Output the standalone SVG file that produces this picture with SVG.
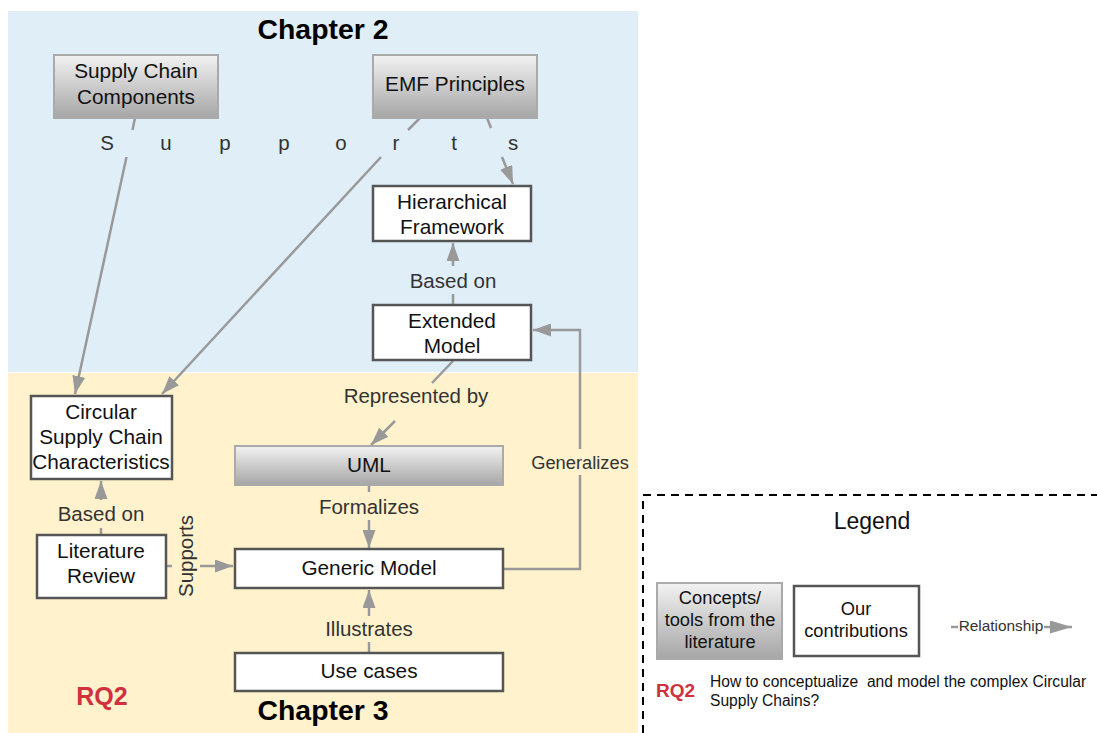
<svg xmlns="http://www.w3.org/2000/svg" width="1097" height="733" viewBox="0 0 1097 733">
<defs>
<linearGradient id="gray" x1="0" y1="0" x2="0" y2="1">
<stop offset="0" stop-color="#f2f2f2"/>
<stop offset="1" stop-color="#a6a6a6"/>
</linearGradient>
<marker id="arr" viewBox="0 0 18 13" refX="18" refY="6.5" markerWidth="18" markerHeight="13" markerUnits="userSpaceOnUse" orient="auto">
<path d="M0,0 L18,6.5 L0,13 z" fill="#999"/>
</marker>
<marker id="arrL" viewBox="0 0 22 13" refX="22" refY="6.5" markerWidth="22" markerHeight="13" markerUnits="userSpaceOnUse" orient="auto">
<path d="M0,0 L22,6.5 L0,13 z" fill="#999"/>
</marker>
<style>
.lit{fill:url(#gray);stroke:#aaaaaa;stroke-width:2}
.our{fill:#ffffff;stroke:#555555;stroke-width:2.5}
.nt{font-family:"Liberation Sans",Arial,sans-serif;font-size:20.8px;fill:#111;text-anchor:middle}
.lb{font-family:"Liberation Sans",Arial,sans-serif;font-size:20.5px;fill:#333;text-anchor:middle}
.cn{fill:none;stroke:#999;stroke-width:2.5}
.ch{font-family:"Liberation Sans",Arial,sans-serif;font-size:28.4px;font-weight:bold;fill:#000;text-anchor:middle}
.rq{font-family:"Liberation Sans",Arial,sans-serif;font-weight:bold;fill:#d0313d}
.lt{font-family:"Liberation Sans",Arial,sans-serif;font-size:18.3px;fill:#111;text-anchor:middle}
.qt{font-family:"Liberation Sans",Arial,sans-serif;font-size:15.6px;fill:#111;white-space:pre}
</style>
</defs>
<rect width="1097" height="733" fill="#ffffff"/>
<g id="backgrounds">
<rect x="8" y="11" width="630" height="361" fill="#e0eef8"/>
<rect x="8" y="373" width="630" height="360" fill="#fff2cc"/>
<text class="ch" x="323" y="39">Chapter 2</text>
<text class="ch" x="323" y="720">Chapter 3</text>
<text class="rq" x="102" y="705" style="font-size:25px" text-anchor="middle">RQ2</text>
</g>
<g id="connectors">
<line class="cn" x1="135" y1="118" x2="132.5" y2="130"/>
<line class="cn" x1="126.5" y1="157" x2="75" y2="394" marker-end="url(#arr)"/>
<line class="cn" x1="420" y1="118" x2="408" y2="130"/>
<line class="cn" x1="381" y1="157" x2="162" y2="394" marker-end="url(#arr)"/>
<line class="cn" x1="487" y1="118" x2="491" y2="128"/>
<line class="cn" x1="502" y1="157" x2="513" y2="184" marker-end="url(#arr)"/>
<line class="cn" x1="453" y1="304" x2="453" y2="294"/>
<line class="cn" x1="453" y1="266" x2="453" y2="243" marker-end="url(#arr)"/>
<line class="cn" x1="453" y1="361" x2="432" y2="383"/>
<line class="cn" x1="395" y1="421" x2="371" y2="445" marker-end="url(#arr)"/>
<path class="cn" d="M503,569 H580 V475"/>
<path class="cn" d="M580,449 V330 H533" marker-end="url(#arr)"/>
<line class="cn" x1="369" y1="486" x2="369" y2="492"/>
<line class="cn" x1="369" y1="520" x2="369" y2="548" marker-end="url(#arr)"/>
<line class="cn" x1="369" y1="652" x2="369" y2="642"/>
<line class="cn" x1="369" y1="616" x2="369" y2="590" marker-end="url(#arr)"/>
<line class="cn" x1="101" y1="535" x2="101" y2="528"/>
<line class="cn" x1="101" y1="500" x2="101" y2="481" marker-end="url(#arr)"/>
<line class="cn" x1="166" y1="566" x2="172" y2="566"/>
<line class="cn" x1="200" y1="566" x2="233" y2="566" marker-end="url(#arr)"/>
<text class="lb" x="0" y="0"><tspan x="107" y="150">S</tspan><tspan x="166" y="150">u</tspan><tspan x="225" y="150">p</tspan><tspan x="284" y="150">p</tspan><tspan x="341" y="150">o</tspan><tspan x="396" y="150">r</tspan><tspan x="454" y="150">t</tspan><tspan x="513" y="150">s</tspan></text>
<text class="lb" x="453" y="288">Based on</text>
<text class="lb" x="416" y="403">Represented by</text>
<text class="lb" x="580" y="469" style="font-size:18.3px">Generalizes</text>
<text class="lb" x="369" y="514">Formalizes</text>
<text class="lb" x="369" y="636">Illustrates</text>
<text class="lb" x="101" y="521">Based on</text>
<text class="lb" transform="translate(193,556) rotate(-90)">Supports</text>
</g>
<g id="n-scc">
<rect class="lit" x="54" y="55" width="164" height="63"/>
<text class="nt" x="136" y="78">Supply Chain</text>
<text class="nt" x="136" y="104">Components</text>
</g>
<g id="n-emf">
<rect class="lit" x="373" y="55" width="164" height="63"/>
<text class="nt" x="455" y="91">EMF Principles</text>
</g>
<g id="n-hf">
<rect class="our" x="373" y="186" width="158" height="55"/>
<text class="nt" x="452" y="209">Hierarchical</text>
<text class="nt" x="452" y="234">Framework</text>
</g>
<g id="n-em">
<rect class="our" x="373" y="305" width="158" height="55"/>
<text class="nt" x="452" y="328">Extended</text>
<text class="nt" x="452" y="353">Model</text>
</g>
<g id="n-cscc">
<rect class="our" x="31" y="396" width="141" height="83"/>
<text class="nt" x="101" y="419">Circular</text>
<text class="nt" x="101" y="444">Supply Chain</text>
<text class="nt" x="101" y="469">Characteristics</text>
</g>
<g id="n-uml">
<rect class="lit" x="235" y="446" width="268" height="39"/>
<text class="nt" x="369" y="472">UML</text>
</g>
<g id="n-lr">
<rect class="our" x="37" y="535" width="129" height="63"/>
<text class="nt" x="101" y="558">Literature</text>
<text class="nt" x="101" y="583">Review</text>
</g>
<g id="n-gm">
<rect class="our" x="235" y="549" width="268" height="39"/>
<text class="nt" x="369" y="575">Generic Model</text>
</g>
<g id="n-uc">
<rect class="our" x="235" y="653" width="268" height="38"/>
<text class="nt" x="369" y="678">Use cases</text>
</g>
<g id="legend">
<path d="M643,733 V495 H1097" fill="none" stroke="#000" stroke-width="2" stroke-dasharray="8,6"/>
<text class="nt" x="872" y="529" style="font-size:23px">Legend</text>
<rect class="lit" x="657" y="583" width="125" height="76"/>
<text class="lt" x="720" y="604">Concepts/</text>
<text class="lt" x="720" y="626">tools from the</text>
<text class="lt" x="720" y="648">literature</text>
<rect class="our" x="794" y="586" width="125" height="70"/>
<text class="lt" x="856" y="615">Our</text>
<text class="lt" x="856" y="637">contributions</text>
<line class="cn" x1="951" y1="627" x2="958" y2="627" stroke-width="2"/>
<line class="cn" x1="1044" y1="627" x2="1072" y2="627" stroke-width="2" marker-end="url(#arrL)"/>
<text class="lb" x="1001" y="631" style="font-size:15.4px">Relationship</text>
<text class="rq" x="656" y="697" style="font-size:19px">RQ2</text>
<text class="qt" x="710" y="687">How to conceptualize  and model the complex Circular</text>
<text class="qt" x="710" y="706">Supply Chains?</text>
</g>
</svg>
